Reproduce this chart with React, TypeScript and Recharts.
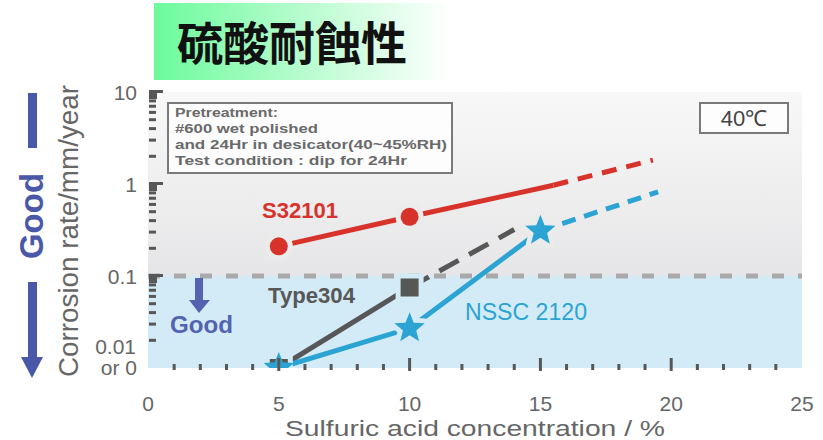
import { ComposedChart, Line, Scatter, XAxis, YAxis, ReferenceArea, ReferenceLine } from "recharts"

const concentration = [5, 10, 15]
const s32101Rate = [0.21, 0.44]
const type304Rate = [0.01, 0.075]
const nssc2120Rate = [0.01, 0.027, 0.31]

// hand-drawn trend lines: where the solid part stops, where the dashed guess ends
const s32101SolidEnd = { x: 15.5, y: 0.97 }
const s32101DashEnd = { x: 19.3, y: 1.82 }
const type304DashEnd = { x: 14, y: 0.32 }
const nssc2120DashEnd = { x: 19.5, y: 0.82 }

const xTicks = [0, 1, 2, 3, 4, 5, 6, 7, 8, 9, 10, 11, 12, 13, 14, 15, 16, 17, 18, 19, 20, 21, 22, 23, 24, 25]
const xLabelTicks = [0, 5, 10, 15, 20, 25]
const yLabelTicks = [0.01, 0.1, 1, 10]
const yMinorTicks = [
  0.02, 0.03, 0.04, 0.05, 0.06, 0.07, 0.08, 0.09,
  0.2, 0.3, 0.4, 0.5, 0.6, 0.7, 0.8, 0.9,
  2, 3, 4, 5, 6, 7, 8, 9,
]

const RED = "#d8332b"
const GRAY = "#575757"
const BLUE = "#2ba4d3"
const TEXT = "#666"
const FONT = "'Liberation Sans', Arial, sans-serif"

const PLOT_BOTTOM = 368

const pts = (xs: number[], ys: number[]) => ys.map((y, i) => ({ x: xs[i], y }))

const s32101Points = pts(concentration, s32101Rate)
const type304Points = pts(concentration, type304Rate)
const nssc2120Points = pts(concentration, nssc2120Rate)

const s32101Solid = [...s32101Points, s32101SolidEnd]
const s32101Dash = [s32101SolidEnd, s32101DashEnd]
const type304Dash = [type304Points[type304Points.length - 1], type304DashEnd]
const nssc2120Dash = [nssc2120Points[nssc2120Points.length - 1], nssc2120DashEnd]

const gapColor = (v: number) => (v < 0.1 ? "#d3ebf6" : "#ebebec")

const CircleMark = (p: any) => (
  <circle cx={p.cx} cy={p.cy} r={9} fill={RED} stroke={gapColor(p.payload.y)} strokeWidth={10} paintOrder="stroke" />
)

const SquareMark = (p: any) => (
  <rect x={p.cx - 9} y={p.cy - 9} width={18} height={18} fill={GRAY} stroke={gapColor(p.payload.y)} strokeWidth={10} paintOrder="stroke" />
)

const starPoints = (cx: number, cy: number, R: number, r: number) =>
  Array.from({ length: 10 }, (_, i) => {
    const a = -Math.PI / 2 + (i * Math.PI) / 5
    const rad = i % 2 === 0 ? R : r
    return `${cx + rad * Math.cos(a)},${cy + rad * Math.sin(a)}`
  }).join(" ")

const StarMark = (p: any) => (
  <polygon
    points={starPoints(p.cx, p.cy, 16, 7)}
    fill={BLUE}
    stroke={p.payload.y > 0.01 ? gapColor(p.payload.y) : "none"}
    strokeWidth={10}
    strokeLinejoin="round"
    paintOrder="stroke"
  />
)

const renderXTick = (props: any) => {
  const { x, payload } = props
  const v = payload.value
  const labelled = xLabelTicks.includes(v)
  const tall = v % 5 === 0 && v > 0 && v < 25
  return (
    <g>
      {v > 0 && v < 25 && (
        <rect x={x - 1.5} y={tall ? PLOT_BOTTOM - 10 : PLOT_BOTTOM - 4} width={3} height={tall ? 13 : 6} fill={GRAY} />
      )}
      {labelled && (
        <text x={x} y={411} textAnchor="middle" fontSize={21} fill={TEXT} fontFamily={FONT}>
          {v}
        </text>
      )}
    </g>
  )
}

const renderYTick = (props: any) => {
  const { y, payload } = props
  const v = payload.value
  if (v === 0.01) {
    return (
      <g>
        <text x={136} y={y - 22} dy="0.36em" textAnchor="end" fontSize={21} fill={TEXT} fontFamily={FONT}>0.01</text>
        <text x={137} y={y - 1} dy="0.36em" textAnchor="end" fontSize={21} fill={TEXT} fontFamily={FONT}>or 0</text>
      </g>
    )
  }
  const major = yLabelTicks.includes(v)
  return (
    <g>
      {major ? (
        <>
          <rect x={149} y={y - 2} width={8} height={9} fill={GRAY} />
          <rect x={149} y={y - 2} width={14} height={3} fill={GRAY} />
          <text x={137} y={y} dy="0.36em" textAnchor="end" fontSize={21} fill={TEXT} fontFamily={FONT}>
            {v}
          </text>
        </>
      ) : (
        <rect x={149} y={y - 1.5} width={7} height={3} fill={GRAY} />
      )}
    </g>
  )
}

const noteLines = [
  { t: "Pretreatment:", w: 103 },
  { t: "#600 wet polished", w: 143 },
  { t: "and 24Hr in desicator(40~45%RH)", w: 272 },
  { t: "Test condition : dip for 24Hr", w: 232 },
]

function Overlay() {
  return (
    <svg width={823} height={440} style={{ position: "absolute", left: 0, top: 0, pointerEvents: "none" }}>
      <defs>
        <linearGradient id="titleGrad" x1="0" y1="0" x2="1" y2="0">
          <stop offset="0%" stopColor="#6cfb9b" />
          <stop offset="45%" stopColor="#aefcc8" />
          <stop offset="100%" stopColor="#fbfffc" />
        </linearGradient>
        <linearGradient id="upperGrad" x1="0" y1="0" x2="0" y2="1">
          <stop offset="0%" stopColor="#f8f8f8" />
          <stop offset="100%" stopColor="#e6e6e8" />
        </linearGradient>
      </defs>

      <rect x={154} y={3} width={290} height={77} fill="url(#titleGrad)" />
      <text x={292} y={60} textAnchor="middle" fontSize={46} fontWeight={700} fill="#111" fontFamily="'Noto Sans CJK JP', sans-serif">
        硫酸耐蝕性
      </text>

      {/* big "Good" arrow on the left */}
      <rect x={28} y={93} width={9} height={55} fill="#4a58a8" />
      <text transform="translate(43,216) rotate(-90)" textAnchor="middle" fontSize={33} fontWeight={700} fill="#4a58a8" fontFamily={FONT}>
        Good
      </text>
      <rect x={28} y={282} width={9} height={76} fill="#4a58a8" />
      <polygon points="21,357 43,357 32,378" fill="#4a58a8" />

      <text transform="translate(78,231) rotate(-90)" textAnchor="middle" fontSize={27} fill={TEXT} fontFamily={FONT} textLength={292} lengthAdjust="spacingAndGlyphs">
        Corrosion rate/mm/year
      </text>

      <text x={475} y={436} textAnchor="middle" fontSize={22} fill={TEXT} fontFamily={FONT} textLength={380} lengthAdjust="spacingAndGlyphs">
        Sulfuric acid concentration / %
      </text>

      <rect x={168} y={103} width={284} height={70} fill="#fdfdfd" stroke="#7a7a7a" strokeWidth={2} />
      {noteLines.map((l, i) => (
        <text key={i} x={175} y={117 + i * 16} fontSize={12.5} fontWeight={700} fill="#6a6a6a" fontFamily={FONT} textLength={l.w} lengthAdjust="spacingAndGlyphs">
          {l.t}
        </text>
      ))}

      <rect x={700} y={103} width={88} height={30} fill="#fdfdfd" stroke="#7a7a7a" strokeWidth={2} />
      <text x={744} y={126} textAnchor="middle" fontSize={22} fill="#444" fontFamily={FONT}>
        40℃
      </text>

      <text x={262} y={218} fontSize={22} fontWeight={700} fill={RED} fontFamily={FONT} textLength={76} lengthAdjust="spacingAndGlyphs">
        S32101
      </text>
      <text x={268} y={303} fontSize={22} fontWeight={700} fill={GRAY} fontFamily={FONT} textLength={87} lengthAdjust="spacingAndGlyphs">
        Type304
      </text>
      <text x={465} y={320} fontSize={23} fill={BLUE} fontFamily={FONT} textLength={122} lengthAdjust="spacingAndGlyphs">
        NSSC 2120
      </text>

      {/* small "Good" arrow inside the blue band */}
      <rect x={195} y={278} width={8} height={24} fill="#5363b0" />
      <polygon points="189,300 210,300 199,313" fill="#5363b0" />
      <text x={170} y={333} fontSize={24} fontWeight={700} fill="#5363b0" fontFamily={FONT} textLength={63} lengthAdjust="spacingAndGlyphs">
        Good
      </text>
    </svg>
  )
}

export default function App() {
  return (
    <div style={{ position: "absolute", left: 0, top: 0, width: 823, height: 440, background: "#fff" }}>
      <ComposedChart width={823} height={440} margin={{ top: 92, right: 21, bottom: 0, left: 0 }}>
        <XAxis
          type="number"
          dataKey="x"
          domain={[0, 25]}
          ticks={xTicks}
          interval={0}
          axisLine={false}
          tickLine={false}
          tick={renderXTick}
          height={72}
          allowDataOverflow
        />
        <YAxis
          type="number"
          dataKey="y"
          scale="log"
          domain={[0.01, 10]}
          ticks={[...yLabelTicks, ...yMinorTicks]}
          interval={0}
          axisLine={false}
          tickLine={false}
          tick={renderYTick}
          width={148}
          allowDataOverflow
        />
        <ReferenceArea y1={0.1} y2={10} fill="url(#upperGrad)" fillOpacity={1} stroke="none" />
        <ReferenceArea y1={0.01} y2={0.1} fill="#d3ebf6" fillOpacity={1} stroke="none" />
        <ReferenceLine y={0.1} stroke="#a9a9a9" strokeWidth={5} strokeDasharray="12 14" />

        <Line data={s32101Solid} dataKey="y" stroke={RED} strokeWidth={5} dot={false} isAnimationActive={false} />
        <Line data={s32101Dash} dataKey="y" stroke={RED} strokeWidth={5} strokeDasharray="15 10" dot={false} isAnimationActive={false} />
        <Line data={type304Points} dataKey="y" stroke={GRAY} strokeWidth={5} dot={false} isAnimationActive={false} />
        <Line data={type304Dash} dataKey="y" stroke={GRAY} strokeWidth={5} strokeDasharray="22 12" dot={false} isAnimationActive={false} />
        <Line data={nssc2120Points} dataKey="y" stroke={BLUE} strokeWidth={5} dot={false} isAnimationActive={false} />
        <Line data={nssc2120Dash} dataKey="y" stroke={BLUE} strokeWidth={5} strokeDasharray="14 9" dot={false} isAnimationActive={false} />

        <Scatter data={s32101Points} shape={CircleMark} isAnimationActive={false} />
        <Scatter data={type304Points} shape={SquareMark} isAnimationActive={false} />
        <Scatter data={nssc2120Points} shape={StarMark} isAnimationActive={false} />
      </ComposedChart>
      <Overlay />
    </div>
  )
}
